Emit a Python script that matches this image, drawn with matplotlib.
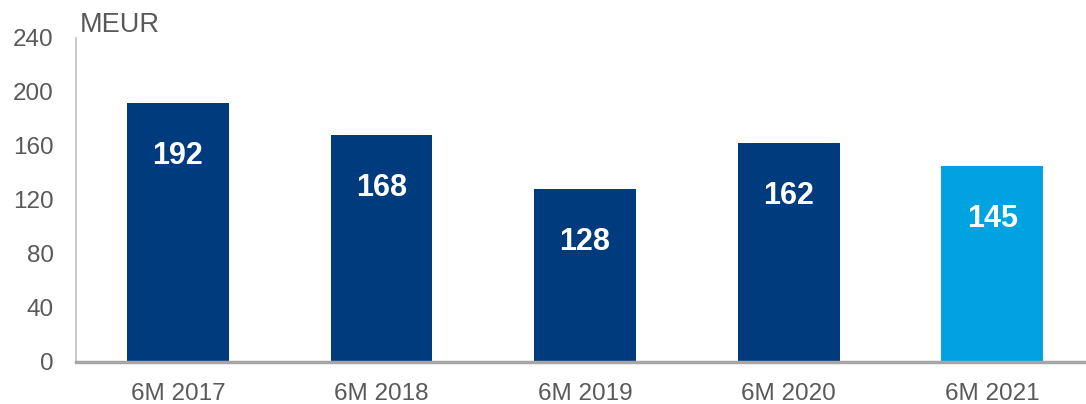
import matplotlib.pyplot as plt

plt.rcParams['font.family'] = ['Liberation Sans', 'DejaVu Sans']

periods = ['6M 2017', '6M 2018', '6M 2019', '6M 2020', '6M 2021']
values = [192, 168, 128, 162, 145]
colors = ['#003C7D', '#003C7D', '#003C7D', '#003C7D', '#00A3E0']
yticks = [0, 40, 80, 120, 160, 200, 240]

fig = plt.figure(figsize=(10.86, 4.04), dpi=100)
ax = fig.add_axes([0.07, 0.104, 0.93, 0.802])

x = range(len(periods))
ax.bar(x, values, width=0.5, color=colors, zorder=2)

for xi, v in zip(x, values):
    ax.annotate(str(v), xy=(xi, v), xytext=(0, -38), textcoords='offset points',
                ha='center', va='center', color='white', fontsize=22, fontweight='bold')

ax.set_xlim(-0.5, 4.46)
ax.set_ylim(0, 240)
ax.set_yticks(yticks)
ax.set_xticks(list(x))
ax.set_xticklabels(periods)
ax.tick_params(axis='both', length=0, labelsize=17.5, labelcolor='#595959')
ax.tick_params(axis='x', pad=15)
ax.tick_params(axis='y', pad=16)

for side in ['top', 'right']:
    ax.spines[side].set_visible(False)
ax.spines['left'].set_color('#BFBFBF')
ax.spines['left'].set_linewidth(1.2)
ax.spines['bottom'].set_color('#A6A6A6')
ax.spines['bottom'].set_linewidth(2.5)
ax.spines['bottom'].set_zorder(3)

fig.text(0.0737, 0.921, 'MEUR', fontsize=19.5, color='#595959', ha='left', va='baseline')

fig.savefig('out.png', dpi=100)
